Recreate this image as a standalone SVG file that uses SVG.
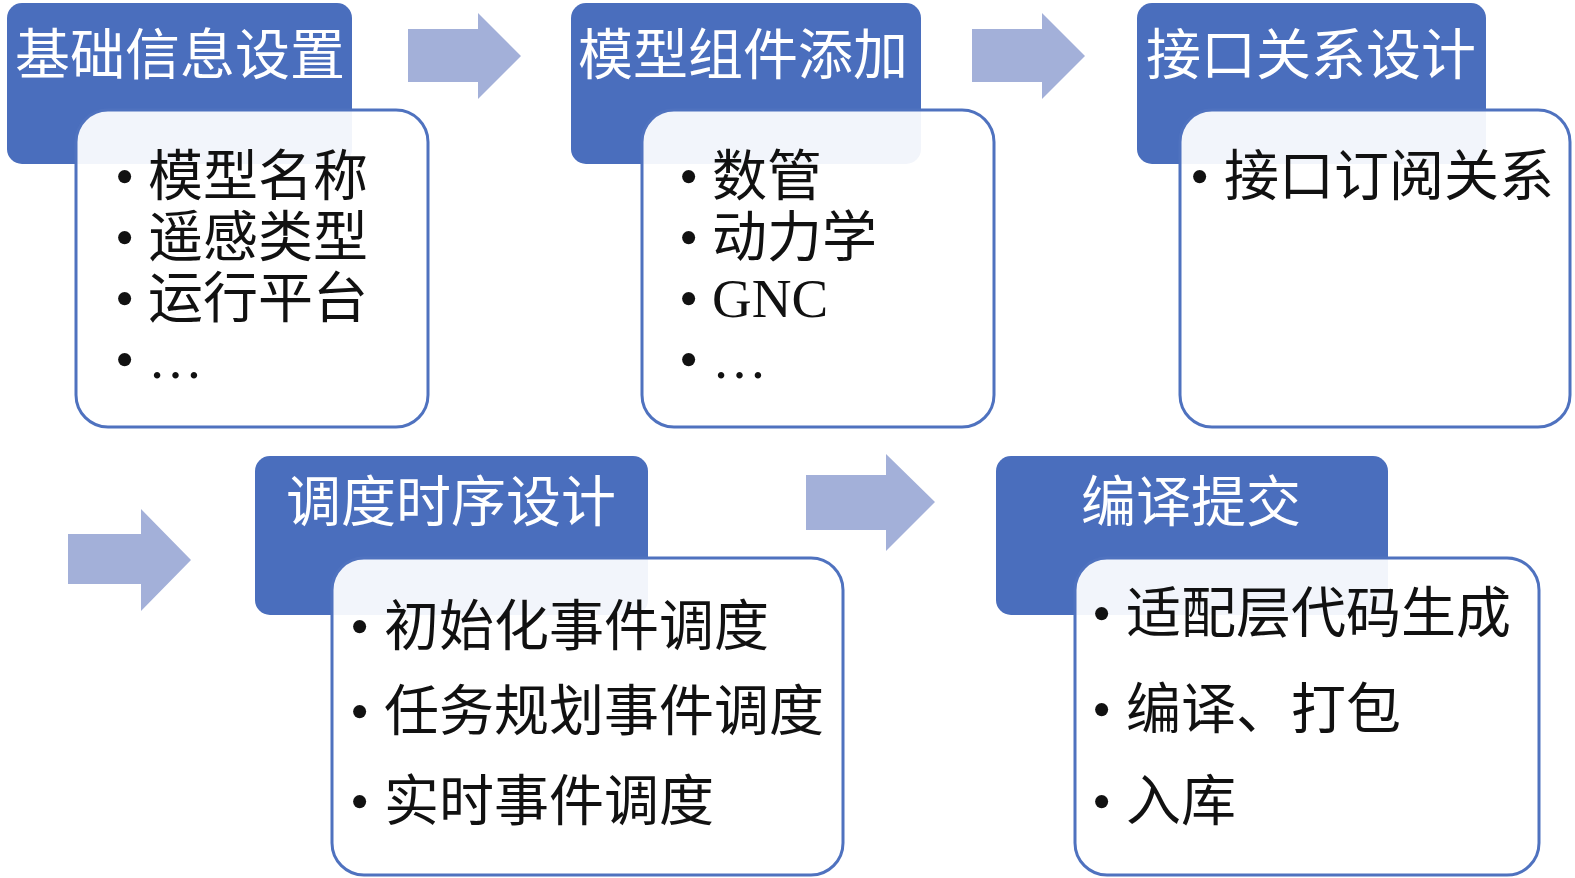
<svg xmlns="http://www.w3.org/2000/svg" width="1575" height="878" viewBox="0 0 1575 878">
<style>
.hd{fill:#4a6ebd}
.bd{fill:#ffffff;fill-opacity:0.93;stroke:#4f72bf;stroke-width:3}
.ar{fill:#a3b0d9}
.ht{font-family:"Liberation Serif","Noto Sans CJK SC",serif;font-size:55px;fill:#ffffff;text-anchor:middle}
.it{font-family:"Liberation Serif","Noto Sans CJK SC",serif;font-size:55px;fill:#111111}
</style>
<rect width="1575" height="878" fill="#ffffff"/>
<g id="connectors">
<polygon class="ar" points="408,29 478,29 478,13 521,56 478,99 478,82 408,82"/>
<polygon class="ar" points="972,29 1042,29 1042,13 1085,56 1042,99 1042,82 972,82"/>
<polygon class="ar" points="68,534 141,534 141,509 191,560 141,611 141,584 68,584"/>
<polygon class="ar" points="806,475 886,475 886,454 935,502 886,551 886,530 806,530"/>
</g>
<g id="node1">
<rect class="hd" x="7" y="3" width="345" height="161" rx="15"/>
<text class="ht" x="180" y="74">基础信息设置</text>
<rect class="bd" x="76" y="110" width="352" height="317" rx="32"/>
<text class="it" y="195"><tspan x="115">•</tspan><tspan x="148">模型名称</tspan></text>
<text class="it" y="256"><tspan x="115">•</tspan><tspan x="148">遥感类型</tspan></text>
<text class="it" y="317"><tspan x="115">•</tspan><tspan x="148">运行平台</tspan></text>
<text class="it" y="378"><tspan x="115">•</tspan><tspan x="148">…</tspan></text>
</g>
<g id="node2">
<rect class="hd" x="571" y="3" width="350" height="161" rx="15"/>
<text class="ht" x="743" y="74">模型组件添加</text>
<rect class="bd" x="642" y="110" width="352" height="317" rx="32"/>
<text class="it" y="195"><tspan x="679">•</tspan><tspan x="712">数管</tspan></text>
<text class="it" y="256"><tspan x="679">•</tspan><tspan x="712">动力学</tspan></text>
<text class="it" y="317"><tspan x="679">•</tspan><tspan x="712">GNC</tspan></text>
<text class="it" y="378"><tspan x="679">•</tspan><tspan x="712">…</tspan></text>
</g>
<g id="node3">
<rect class="hd" x="1137" y="3" width="349" height="161" rx="15"/>
<text class="ht" x="1311" y="74">接口关系设计</text>
<rect class="bd" x="1180" y="110" width="390" height="317" rx="32"/>
<text class="it" y="195"><tspan x="1190">•</tspan><tspan x="1224">接口订阅关系</tspan></text>
</g>
<g id="node4">
<rect class="hd" x="255" y="456" width="393" height="159" rx="15"/>
<text class="ht" x="451" y="521">调度时序设计</text>
<rect class="bd" x="332" y="558" width="511" height="317" rx="32"/>
<text class="it" y="645"><tspan x="350">•</tspan><tspan x="384">初始化事件调度</tspan></text>
<text class="it" y="730"><tspan x="350">•</tspan><tspan x="384">任务规划事件调度</tspan></text>
<text class="it" y="820"><tspan x="350">•</tspan><tspan x="384">实时事件调度</tspan></text>
</g>
<g id="node5">
<rect class="hd" x="996" y="456" width="392" height="159" rx="15"/>
<text class="ht" x="1191" y="521">编译提交</text>
<rect class="bd" x="1075" y="558" width="464" height="317" rx="32"/>
<text class="it" y="632"><tspan x="1092">•</tspan><tspan x="1126">适配层代码生成</tspan></text>
<text class="it" y="728"><tspan x="1092">•</tspan><tspan x="1126">编译、打包</tspan></text>
<text class="it" y="820"><tspan x="1092">•</tspan><tspan x="1126">入库</tspan></text>
</g>
</svg>
